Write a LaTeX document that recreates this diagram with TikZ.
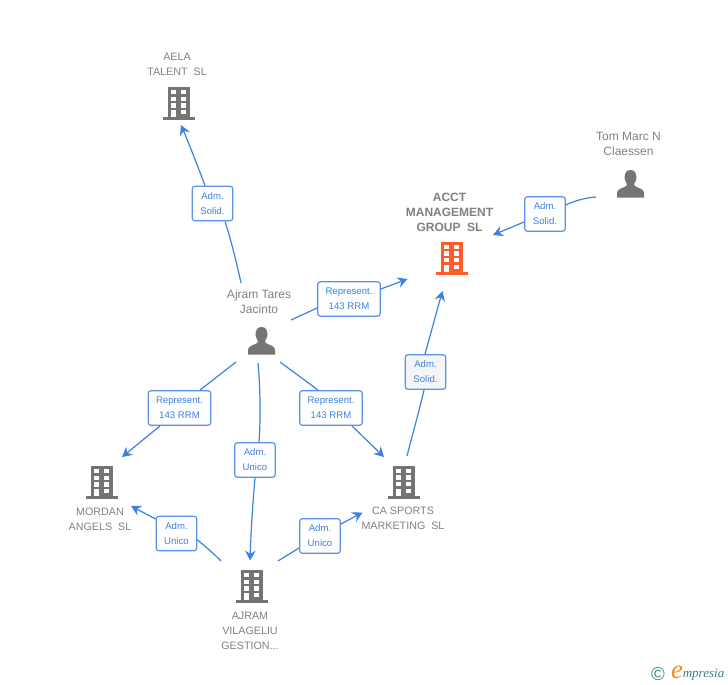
\documentclass[tikz,border=0pt]{standalone}
\usepackage{fontspec}
\setmainfont{Liberation Sans}
\newfontfamily\logofont{Liberation Serif}
\usetikzlibrary{arrows.meta}
\definecolor{icongray}{HTML}{757575}
\definecolor{labelgray}{HTML}{808080}
\definecolor{linkblue}{HTML}{3D80E0}
\definecolor{acctorange}{HTML}{FF5C2B}
\definecolor{logoteal}{HTML}{3F7F93}
\definecolor{logoorange}{HTML}{F28A1E}
\tikzset{
  x=0.75pt,y=-0.75pt,
  namelabel/.style={align=center,text=labelgray,inner sep=0pt,font=\fontsize{9}{11.25}\selectfont},
  complabel/.style={align=center,text=labelgray,inner sep=0pt,font=\fontsize{8.05}{11.25}\selectfont},
  boldlabel/.style={namelabel,font=\fontsize{9}{11.25}\selectfont\bfseries},
  linkbox/.style={draw=linkblue!85!white,line width=0.9pt,fill=white,rounded corners=2.2pt,align=center,
    text=linkblue,inner sep=0pt,font=\fontsize{7.2}{11.25}\selectfont},
  admbox/.style={linkbox,minimum width=30.5pt,minimum height=26pt},
  repbox/.style={linkbox,minimum width=47pt,minimum height=26pt},
  link/.style={draw=linkblue,line width=0.9pt},
  linkarrow/.style={link,-{Stealth[length=7.5pt,width=8pt,inset=2.6pt]}},
  pics/bldg/.style={code={
    \fill[#1] (-11,-16) rectangle (11,15);
    \fill[#1] (-16,14.2) rectangle (16,17);
    \foreach \yy in {-13,-6.3,0.3}{
      \fill[white] (-8,\yy) rectangle (-3,\yy+4.4);
      \fill[white] (2,\yy) rectangle (7,\yy+4.4);
    }
    \fill[white] (-8,7) rectangle (-3,14.2);
    \fill[white] (2,7) rectangle (7,11);
  }},
  pics/person/.style={code={
    \fill[icongray] (0,-14) .. controls (-4.5,-14) and (-6,-10.5) .. (-6,-7.5)
      .. controls (-6,-4) and (-4.5,-1.5) .. (-3.5,0) .. controls (-3.5,1.5) and (-4.5,2.5) .. (-6.5,3.2)
      .. controls (-11,4.8) and (-13.5,6) .. (-13.5,9.5) -- (-13.5,13.5) -- (13.5,13.5) -- (13.5,9.5)
      .. controls (13.5,6) and (11,4.8) .. (6.5,3.2) .. controls (4.5,2.5) and (3.5,1.5) .. (3.5,0)
      .. controls (4.5,-1.5) and (6,-4) .. (6,-7.5) .. controls (6,-10.5) and (4.5,-14) .. (0,-14) -- cycle;
  }},
}
\begin{document}
\begin{tikzpicture}
\useasboundingbox (0,0) rectangle (728,685);

% icons
\pic at (179,103) {bldg=icongray};
\pic at (452,257.5) {bldg=acctorange};
\pic at (102,482) {bldg=icongray};
\pic at (404,481.5) {bldg=icongray};
\pic at (251.6,586) {bldg=icongray};
\pic at (630.5,184) {person};
\pic at (261.5,341) {person};

% names
\node[complabel] (aela) at (177,64.5) {AELA\\TALENT\ \ SL};
\node[namelabel] (tom) at (628.5,143.5) {Tom Marc N\\Claessen};
\node[boldlabel] (acct) at (449.5,212) {ACCT\\MANAGEMENT\\GROUP\ \ SL};
\node[namelabel] (ajt) at (259,301.5) {Ajram Tares\\Jacinto};
\node[complabel] (mordan) at (100,519.5) {MORDAN\\ANGELS\ \ SL};
\node[complabel] (casp) at (403,518.5) {CA SPORTS\\MARKETING\ \ SL};
\node[complabel] (ajv) at (250,631) {AJRAM\\VILAGELIU\\GESTION...};

% link boxes
\node[admbox] (b1) at (212.5,203.5) {Adm.\\Solid.};
\node[repbox] (b2) at (349,299) {Represent.\\143 RRM};
\node[admbox] (b3) at (545,214) {Adm.\\Solid.};
\node[admbox,fill=black!4] (b4) at (425.5,372) {Adm.\\Solid.};
\node[repbox] (b5) at (179.5,408) {Represent.\\143 RRM};
\node[admbox] (b6) at (255,460) {Adm.\\Unico};
\node[repbox] (b7) at (331,408) {Represent.\\143 RRM};
\node[admbox] (b8) at (176.5,533.5) {Adm.\\Unico};
\node[admbox] (b9) at (320,536) {Adm.\\Unico};

% free ends
\coordinate (s1) at (241,283);
\coordinate (e1) at (181,125);
\coordinate (s2) at (291,320);
\coordinate (e2) at (407.5,279);
\coordinate (s3) at (596,197);
\coordinate (e3) at (493,235);
\coordinate (s4) at (407,456);
\coordinate (e4) at (442.5,291);
\coordinate (s5) at (236,362);
\coordinate (e5) at (122,457);
\coordinate (s6) at (258,363);
\coordinate (e6) at (250,560.5);
\coordinate (s7) at (280,362);
\coordinate (e7) at (384,457);
\coordinate (s8) at (221,561);
\coordinate (e8) at (131,506);
\coordinate (s9) at (278,561);
\coordinate (e9) at (362.5,512.5);

% connectors
\draw[link] (s1) .. controls (236,260) and (231,240) .. (b1.south -| 225,0);
\draw[linkarrow] (b1.north -| 205,0) .. controls (198,167) and (190,146) .. (e1);
\draw[link] (s2) -- (b2.west |- 0,308);
\draw[linkarrow] (b2.east |- 0,289) -- (e2);
\draw[link] (s3) .. controls (584,198) and (574,201) .. (b3.east |- 0,205);
\draw[linkarrow] (b3.west |- 0,222) -- (e3);
\draw[link] (s4) .. controls (413,432) and (419,412) .. (b4.south -| 424,0);
\draw[linkarrow] (b4.north -| 425,0) .. controls (430,336) and (436,314) .. (e4);
\draw[link] (s5) -- (b5.north -| 200,0);
\draw[linkarrow] (b5.south -| 160,0) -- (e5);
\draw[link] (s6) .. controls (260,385) and (261,415) .. (b6.north -| 259,0);
\draw[linkarrow] (b6.south) .. controls (253,500) and (251,530) .. (e6);
\draw[link] (s7) -- (b7.north -| 318,0);
\draw[linkarrow] (b7.south -| 352,0) -- (e7);
\draw[link] (s8) .. controls (213,553) and (205,546) .. (b8.east |- 0,540);
\draw[linkarrow] (b8.west |- 0,519) -- (e8);
\draw[link] (s9) -- (b9.west |- 0,548);
\draw[linkarrow] (b9.east |- 0,524) -- (e9);

% logo
\node[text=logoteal,inner sep=0pt,font=\fontsize{14}{14}\selectfont] (copy) at (658,674.5) {©};
\node[text=logoorange,inner sep=0pt,font=\logofont\itshape\fontsize{20}{20}\selectfont] (loge) at (677,672) {e};
\node[text=logoteal,inner sep=0pt,anchor=west,font=\logofont\itshape\fontsize{9.8}{10}\selectfont] (logt) at (682.5,675) {mpresia};
\end{tikzpicture}
\end{document}
